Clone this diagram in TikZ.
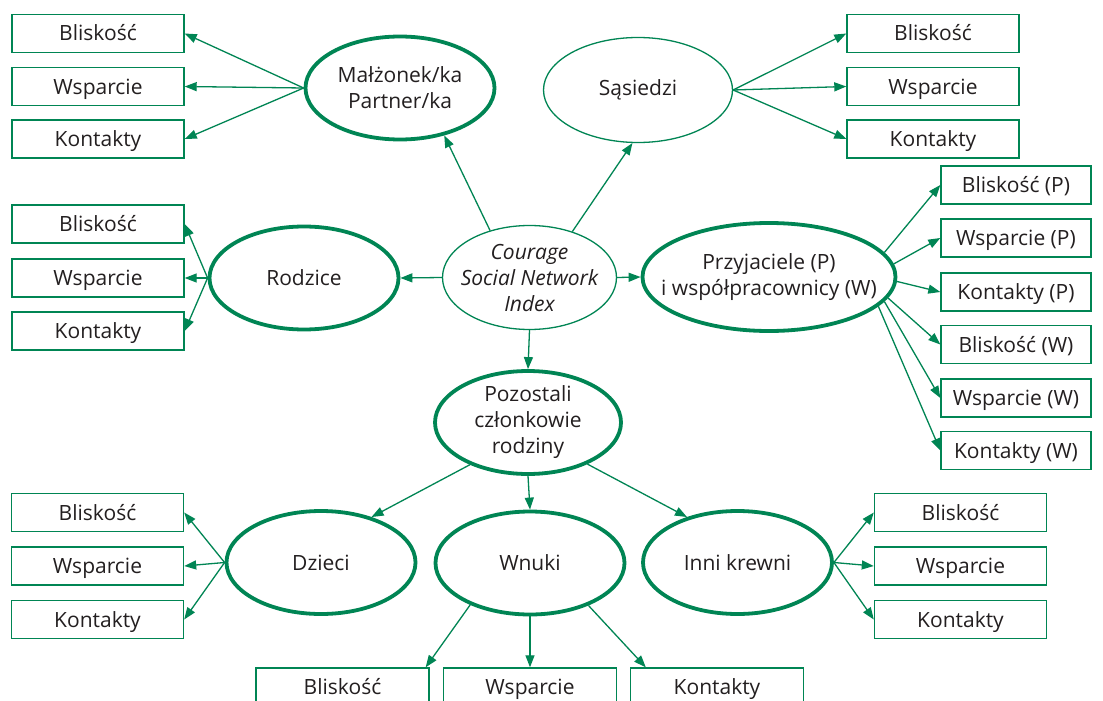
\documentclass[tikz,border=0pt]{standalone}
\usepackage{fontspec}
\setmainfont{Open Sans}
\usetikzlibrary{shapes.geometric,arrows.meta}
\definecolor{grn}{RGB}{0,133,84}
\definecolor{txtc}{RGB}{35,31,32}
\tikzset{
  lbl/.style={font=\fontsize{21}{26}\selectfont, text=txtc, align=center, inner sep=0pt},
  box/.style={draw=grn, line width=1.4pt, minimum width=172pt, minimum height=38pt, inner sep=0pt, lbl, text height=15pt, text depth=0pt},
  rbox/.style={box, minimum width=150pt},
  ellthick/.style={ellipse, draw=grn, line width=3.8pt, minimum width=189pt, minimum height=103pt, inner sep=0pt},
  ellthin/.style={ellipse, draw=grn, line width=1.3pt, inner sep=0pt},
  conn/.style={draw=grn, line width=1.3pt, -{Triangle[length=12pt,width=9pt]}},
}
\begin{document}
\begin{tikzpicture}[x=1pt,y=-1pt]
\useasboundingbox (0,0) rectangle (1103,701);
\fill[white] (0,0) rectangle (1103,701);
\clip (0,0) rectangle (1103,701);

% ellipses
\node[ellthick, label={[lbl]center:{Małżonek/ka\\Partner/ka}}] (mal) at (400,88) {};
\node[ellthin, minimum width=189pt, minimum height=105pt, label={[lbl]center:{Sąsiedzi}}] (sas) at (638,90) {};
\node[ellthin, minimum width=174pt, minimum height=104pt, label={[lbl,font=\fontsize{21}{26}\selectfont\itshape]center:{Courage\\Social Network\\Index}}] (cou) at (529.5,277.5) {};
\node[ellthick, label={[lbl]center:{Rodzice}}] (rod) at (304,278) {};
\node[ellthick, minimum width=253pt, minimum height=108pt, label={[lbl]center:{Przyjaciele (P)\\i współpracownicy (W)}}] (prz) at (769,277) {};
\node[ellthick, minimum width=186pt, label={[lbl]center:{Pozostali\\członkowie\\rodziny}}] (poz) at (528,422.5) {};
\node[ellthick, label={[lbl]center:{Dzieci}}] (dz) at (321,562.5) {};
\node[ellthick, label={[lbl]center:{Wnuki}}] (wn) at (530,563) {};
\node[ellthick, label={[lbl]center:{Inni krewni}}] (inn) at (737.5,562.5) {};

% top-left boxes
\node[box] (tl1) at (98,33.5) {Bliskość};
\node[box] (tl2) at (98,86.5) {Wsparcie};
\node[box] (tl3) at (98,139) {Kontakty};
% top-right boxes
\node[box] (tr1) at (933,33.5) {Bliskość};
\node[box] (tr2) at (933,86.5) {Wsparcie};
\node[box] (tr3) at (933,139) {Kontakty};
% left boxes
\node[box] (l1) at (98,224) {Bliskość};
\node[box] (l2) at (98,278) {Wsparcie};
\node[box] (l3) at (98,331) {Kontakty};
% right boxes
\node[rbox] (r1) at (1016,185) {Bliskość (P)};
\node[rbox] (r2) at (1016,238) {Wsparcie (P)};
\node[rbox] (r3) at (1016,292) {Kontakty (P)};
\node[rbox] (r4) at (1016,344.5) {Bliskość (W)};
\node[rbox] (r5) at (1016,398) {Wsparcie (W)};
\node[rbox] (r6) at (1016,450.5) {Kontakty (W)};
% bottom-left boxes
\node[box] (bl1) at (97.5,512.5) {Bliskość};
\node[box] (bl2) at (97.5,566) {Wsparcie};
\node[box] (bl3) at (97.5,619.5) {Kontakty};
% bottom-right boxes
\node[box] (br1) at (960.5,512.5) {Bliskość};
\node[box] (br2) at (960.5,566) {Wsparcie};
\node[box] (br3) at (960.5,619.5) {Kontakty};
% bottom boxes
\node[box, minimum width=173pt] (bb1) at (342.5,687) {Bliskość};
\node[box, minimum width=173pt] (bb2) at (530,687) {Wsparcie};
\node[box, minimum width=173pt] (bb3) at (717,687) {Kontakty};

% connectors
\draw[conn] (mal.west) -- (tl1.east);
\draw[conn] (mal.west) -- (tl2.east);
\draw[conn] (mal.west) -- (tl3.east);
\draw[conn] (sas.east) -- (tr1.west);
\draw[conn] (sas.east) -- (tr2.west);
\draw[conn] (sas.east) -- (tr3.west);
\draw[conn] (cou.130.5) -- (mal.-47.4);
\draw[conn] (cou.47.5) -- (sas.-96.5);
\draw[conn] (cou.west) -- (rod.east);
\draw[conn] (rod.west) -- (l1.east);
\draw[conn] (rod.west) -- (l2.east);
\draw[conn] (rod.west) -- (l3.east);
\draw[conn] (cou.east) -- (prz.west);
\draw[conn] (prz.12) -- (r1.west);
\draw[conn] (prz.6.8) -- (r2.west);
\draw[conn] (prz.-2.7) -- (r3.west);
\draw[conn] (prz.-10) -- (r4.west);
\draw[conn] (prz.-12.4) -- (r5.west);
\draw[conn] (prz.-15.6) -- (r6.west);
\draw[conn] (cou.south) -- (poz.north);
\draw[conn] (poz.-144.5) -- (dz.42.4);
\draw[conn] (poz.south) -- (wn.north);
\draw[conn] (poz.-35.2) -- (inn.138.9);
\draw[conn] (dz.west) -- (bl1.east);
\draw[conn] (dz.west) -- (bl2.east);
\draw[conn] (dz.west) -- (bl3.east);
\draw[conn] (inn.east) -- (br1.west);
\draw[conn] (inn.east) -- (br2.west);
\draw[conn] (inn.east) -- (br3.west);
\draw[conn] (wn.-145.7) -- ([xshift=-4pt]bb1.north east);
\draw[conn] (wn.south) -- (bb2.north);
\draw[conn] (wn.-36.1) -- ([xshift=16pt]bb3.north west);
\end{tikzpicture}
\end{document}
